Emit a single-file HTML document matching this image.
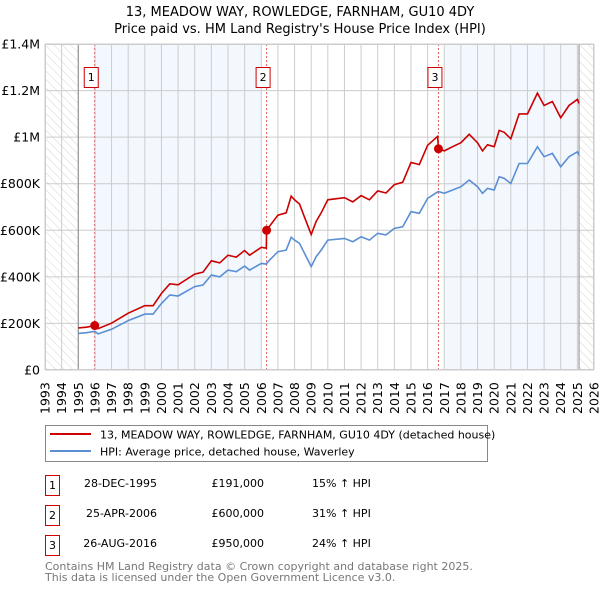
<!DOCTYPE html>
<html><head><meta charset="utf-8"><style>
body{margin:0;background:#fff;}
svg{display:block;font-family:"DejaVu Sans","Liberation Sans",sans-serif;}
</style></head><body>
<svg id="c" width="600" height="590" viewBox="0 0 600 590">
<defs><pattern id="hatch" width="6" height="6" patternUnits="userSpaceOnUse" patternTransform="rotate(-45)"><line x1="0" y1="0" x2="0" y2="6" stroke="#ccc" stroke-width="0.8"/></pattern></defs>
<text x="300" y="16" text-anchor="middle" font-size="13" fill="#000">13, MEADOW WAY, ROWLEDGE, FARNHAM, GU10 4DY</text>
<text x="300" y="33" text-anchor="middle" font-size="13" fill="#000">Price paid vs. HM Land Registry's House Price Index (HPI)</text>
<g id="plot"></g>
<g>
<rect x="45.5" y="425.5" width="442" height="36" fill="#fff" stroke="#888"/>
<line x1="50" y1="434" x2="91" y2="434" stroke="#cc0000" stroke-width="2"/>
<text x="100" y="438.5" font-size="11">13, MEADOW WAY, ROWLEDGE, FARNHAM, GU10 4DY (detached house)</text>
<line x1="50" y1="451" x2="91" y2="451" stroke="#5b8fd4" stroke-width="2"/>
<text x="100" y="455.5" font-size="11">HPI: Average price, detached house, Waverley</text>
</g>
<g font-size="11">
<rect x="45.5" y="475.5" width="14" height="20" fill="#fff" stroke="#cc0000"/><text x="52.5" y="489" text-anchor="middle">1</text>
<text x="157" y="487" text-anchor="end">28-DEC-1995</text><text x="264" y="487" text-anchor="end">£191,000</text><text x="312" y="487">15% ↑ HPI</text>
<rect x="45.5" y="505.5" width="14" height="20" fill="#fff" stroke="#cc0000"/><text x="52.5" y="519" text-anchor="middle">2</text>
<text x="157" y="517" text-anchor="end">25-APR-2006</text><text x="264" y="517" text-anchor="end">£600,000</text><text x="312" y="517">31% ↑ HPI</text>
<rect x="45.5" y="535.5" width="14" height="20" fill="#fff" stroke="#cc0000"/><text x="52.5" y="549" text-anchor="middle">3</text>
<text x="157" y="547" text-anchor="end">26-AUG-2016</text><text x="264" y="547" text-anchor="end">£950,000</text><text x="312" y="547">24% ↑ HPI</text>
</g>
<text x="45" y="570" font-size="11" fill="#777">Contains HM Land Registry data © Crown copyright and database right 2025.</text>
<text x="45" y="581" font-size="11" fill="#777">This data is licensed under the Open Government Licence v3.0.</text>
</svg>
<script>
const years=[1995.0,1995.5,1995.99,1996.2,1997.0,1998.0,1999.0,1999.5,2000.0,2000.5,2001.0,2002.0,2002.5,2003.0,2003.5,2004.0,2004.5,2005.0,2005.3,2006.0,2006.3,2006.32,2006.5,2007.0,2007.5,2007.8,2008.0,2008.3,2008.6,2009.0,2009.3,2009.6,2010.0,2011.0,2011.5,2012.0,2012.5,2013.0,2013.5,2014.0,2014.5,2015.0,2015.5,2016.0,2016.6,2016.65,2017.0,2017.5,2018.0,2018.5,2019.0,2019.3,2019.6,2020.0,2020.3,2020.6,2021.0,2021.5,2022.0,2022.6,2023.0,2023.5,2024.0,2024.5,2025.0,2025.1];
const hpiValues=[157,160,166,155,175,212,240,240,286,322,318,358,365,408,400,429,422,446,429,458,455,458,472,508,515,570,558,544,501,444,487,515,558,565,551,572,558,587,580,608,615,680,673,737,765,766,759,773,787,816,787,759,780,773,830,823,801,887,887,959,916,930,873,916,937,923];
const priceValues=[181,184,191,178,201,244,276,276,329,370,366,412,420,469,460,493,485,513,493,527,523,600,618,665,675,747,731,713,656,582,638,675,731,740,722,749,731,769,760,796,806,891,882,965,1003,950,941,959,976,1012,976,941,967,959,1029,1021,993,1100,1100,1189,1136,1153,1083,1136,1162,1145];
const saleYears=[1995.99,2006.32,2016.65];
const salePrices=[191,600,950];
const saleLabels=["1","2","3"];
const yTicks=[0,200,400,600,800,1000,1200,1400];
const yTickLabels=["£0","£200K","£400K","£600K","£800K","£1M","£1.2M","£1.4M"];
const shadeRanges=[[1996,2006],[2017,2025]];
const X0=45,X1=594,Y0=370,Y1=44,YR0=1993,YR1=2026,VMAX=1400;
const x=v=>X0+(v-YR0)/(YR1-YR0)*(X1-X0);
const y=v=>Y0-v/VMAX*(Y0-Y1);
const NS="http://www.w3.org/2000/svg",g=document.getElementById('plot');
function mk(t,a){const e=document.createElementNS(NS,t);for(const k in a)e.setAttribute(k,a[k]);g.appendChild(e);return e;}
let e;
e=mk('rect',{x:X0,y:Y1,width:X1-X0,height:Y0-Y1,fill:'#fff'});


shadeRanges.forEach(r=>{e=mk('rect',{x:x(r[0]),y:Y1,width:x(r[1])-x(r[0]),height:Y0-Y1,fill:'#f3f7fe'});

});
e=mk('rect',{x:X0,y:Y1,width:x(1995)-X0,height:Y0-Y1,fill:'url(#hatch)'});


e=mk('rect',{x:x(2025.1),y:Y1,width:X1-x(2025.1),height:Y0-Y1,fill:'url(#hatch)'});


for(let yr=YR0;yr<=YR1;yr++){e=mk('line',{x1:x(yr),x2:x(yr),y1:Y1,y2:Y0,stroke:'#ccc','stroke-width':1});


e=mk('text',{x:0,y:0,'font-size':12.5,transform:`translate(${x(yr)+4.5},414) rotate(-90)`});e.textContent=yr;

}
yTicks.forEach((v,i)=>{e=mk('line',{x1:X0,x2:X1,y1:y(v),y2:y(v),stroke:'#ccc','stroke-width':1});


e=mk('text',{x:40,y:y(v)+4.5,'font-size':12.5,'text-anchor':'end'});e.textContent=yTickLabels[i];

});
e=mk('line',{x1:x(1995),x2:x(1995),y1:Y1,y2:Y0,stroke:'#888'});


e=mk('line',{x1:x(2025.1),x2:x(2025.1),y1:Y1,y2:Y0,stroke:'#888'});


saleYears.forEach((s,i)=>{e=mk('line',{x1:x(s),x2:x(s),y1:Y1,y2:Y0,stroke:'#e06060','stroke-dasharray':'2,2','stroke-width':1});

});
const path=(vals,col,name)=>{e=mk('path',{d:vals.map((v,i)=>(i?'L':'M')+x(years[i]).toFixed(1)+','+y(v).toFixed(1)).join(''),fill:'none',stroke:col,'stroke-width':1.6});

};
path(hpiValues,'#5b8fd4','hpi-line');
path(priceValues,'#cc0000','price-line');
saleYears.forEach((s,i)=>{e=mk('circle',{cx:x(s),cy:y(salePrices[i]),r:4.5,fill:'#cc0000'});


e=mk('rect',{x:x(s)-10.5,y:67.5,width:14,height:20,fill:'#fff',stroke:'#cc0000'});


e=mk('text',{x:x(s)-3.5,y:81,'font-size':11,'text-anchor':'middle'});e.textContent=saleLabels[i];

});
e=mk('rect',{x:X0+0.5,y:Y1+0.5,width:X1-X0-1,height:Y0-Y1-1,fill:'none',stroke:'#ccc'});


</script>
</body></html>
